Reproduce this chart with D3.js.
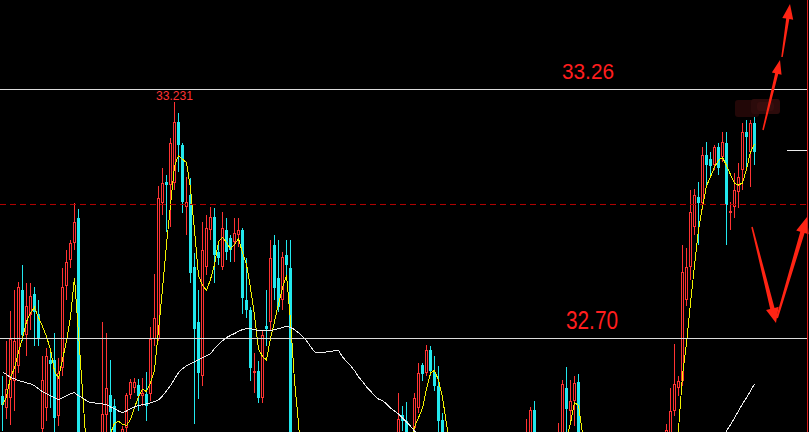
<!DOCTYPE html>
<html><head><meta charset="utf-8">
<script src="https://cdn.jsdelivr.net/npm/d3@7"></script>
<style>html,body{margin:0;padding:0;background:#000;overflow:hidden}svg{display:block}</style>
</head><body><svg id="c" width="809" height="432"></svg>
<script>
const opens=[32.571,32.544,32.567,32.605,32.639,32.810,32.707,32.752,32.801,32.756,
32.497,32.544,32.652,32.652,32.526,32.634,32.819,32.876,32.914,32.971,
32.199,32.176,32.210,32.289,32.357,32.469,32.528,32.573,32.549,32.458,
32.469,32.499,32.573,32.589,32.596,32.571,32.576,32.576,32.700,32.700,
33.005,33.052,33.045,33.050,33.188,33.136,32.996,33.023,32.860,32.736,
32.616,32.860,32.944,32.973,32.894,32.860,32.944,32.926,32.917,32.932,
32.944,32.786,32.763,32.623,32.628,32.567,32.729,32.736,32.910,32.835,
32.786,32.887,32.858,32.379,32.142,32.296,32.289,32.266,32.232,32.244,
32.210,32.199,32.221,32.187,32.176,32.199,32.226,32.244,32.266,32.277,
32.289,32.311,32.300,32.345,32.357,32.368,32.379,32.384,32.402,32.469,
32.528,32.515,32.458,32.499,32.544,32.641,32.623,32.675,32.625,32.594,
32.517,32.424,32.379,32.357,32.334,32.311,32.289,32.300,32.277,32.266,
32.289,32.311,32.334,32.323,32.345,32.357,32.368,32.379,32.402,32.413,
32.402,32.447,32.447,32.540,32.447,32.402,32.379,32.357,32.379,32.447,
32.469,32.589,32.537,32.560,32.603,32.447,32.289,32.266,32.244,32.232,
32.221,32.199,32.176,32.187,32.199,32.210,32.221,32.199,32.187,32.176,
32.187,32.199,32.210,32.221,32.232,32.244,32.469,32.469,32.537,32.589,
32.605,32.786,32.860,32.950,33.018,33.005,33.113,33.104,33.090,33.131,
33.109,33.140,32.982,32.996,33.029,33.079,33.165,33.120,33.185];
const highs=[32.616,32.695,32.761,32.808,32.826,32.865,32.824,32.824,32.815,32.786,
32.661,32.679,32.673,32.713,32.657,32.858,32.899,32.921,33.005,32.991,
32.232,32.244,32.311,32.402,32.458,32.738,32.713,32.652,32.564,32.479,
32.503,32.578,32.609,32.612,32.609,32.612,32.625,32.725,32.844,33.043,
33.084,33.068,33.151,33.231,33.208,33.140,33.063,33.061,32.892,32.808,
32.962,32.978,32.996,32.993,32.914,32.984,32.971,32.932,32.971,32.971,
32.948,32.880,32.770,32.668,32.650,32.718,32.808,32.921,32.932,32.921,
32.894,32.921,32.921,32.402,32.334,32.310,32.300,32.280,32.260,32.255,
32.225,32.235,32.230,32.200,32.210,32.240,32.255,32.280,32.295,32.300,
32.325,32.330,32.360,32.370,32.380,32.395,32.400,32.420,32.430,32.578,
32.549,32.558,32.474,32.578,32.646,32.646,32.686,32.684,32.661,32.639,
32.533,32.440,32.390,32.370,32.345,32.325,32.315,32.310,32.290,32.300,
32.325,32.345,32.350,32.360,32.370,32.380,32.395,32.415,32.430,32.425,
32.440,32.519,32.546,32.560,32.455,32.415,32.390,32.390,32.395,32.510,
32.607,32.637,32.607,32.616,32.621,32.455,32.300,32.280,32.255,32.245,
32.235,32.210,32.200,32.210,32.225,32.235,32.230,32.210,32.200,32.200,
32.210,32.225,32.235,32.245,32.255,32.260,32.508,32.589,32.688,32.616,
32.910,32.903,33.034,33.036,33.052,33.131,33.142,33.120,33.136,33.140,
33.165,33.165,33.007,33.072,33.095,33.185,33.192,33.192,33.199];
const lows=[32.492,32.519,32.506,32.537,32.623,32.695,32.661,32.718,32.684,32.684,
32.469,32.515,32.544,32.469,32.503,32.616,32.786,32.858,32.899,31.973,
32.131,32.153,32.187,32.266,32.334,32.458,32.469,32.469,32.447,32.424,
32.458,32.481,32.564,32.578,32.537,32.549,32.515,32.560,32.684,32.695,
32.978,32.939,32.950,33.034,33.075,32.982,32.932,32.824,32.508,32.564,
32.594,32.842,32.921,32.824,32.865,32.853,32.876,32.871,32.871,32.905,
32.756,32.745,32.605,32.578,32.555,32.555,32.684,32.718,32.786,32.759,
32.763,32.842,32.334,32.108,32.108,32.270,32.250,32.220,32.215,32.195,
32.185,32.185,32.170,32.160,32.165,32.190,32.215,32.235,32.250,32.265,
32.280,32.290,32.290,32.335,32.345,32.355,32.365,32.375,32.390,32.447,
32.492,32.436,32.424,32.469,32.533,32.605,32.616,32.616,32.582,32.488,
32.402,32.365,32.340,32.320,32.300,32.275,32.280,32.265,32.250,32.255,
32.280,32.300,32.310,32.315,32.335,32.345,32.360,32.370,32.390,32.390,
32.395,32.436,32.436,32.424,32.390,32.365,32.345,32.345,32.355,32.436,
32.458,32.469,32.515,32.503,32.424,32.275,32.250,32.230,32.220,32.205,
32.185,32.160,32.165,32.175,32.190,32.200,32.185,32.175,32.160,32.165,
32.175,32.190,32.200,32.210,32.220,32.230,32.458,32.458,32.526,32.571,
32.594,32.774,32.831,32.932,32.910,32.989,33.045,33.068,33.079,33.068,
33.097,32.910,32.944,32.971,32.993,33.034,33.079,33.041,33.090];
const closes=[32.551,32.587,32.700,32.695,32.815,32.707,32.774,32.795,32.759,32.702,
32.607,32.661,32.643,32.521,32.623,32.815,32.871,32.914,32.962,31.993,
32.171,32.199,32.289,32.357,32.424,32.530,32.589,32.535,32.469,32.447,
32.497,32.573,32.603,32.603,32.571,32.578,32.549,32.700,32.747,33.016,
33.050,33.045,33.140,33.188,33.136,33.007,33.007,32.847,32.722,32.623,
32.899,32.948,32.973,32.887,32.880,32.948,32.894,32.899,32.937,32.944,
32.790,32.763,32.634,32.628,32.567,32.707,32.722,32.880,32.813,32.770,
32.883,32.865,32.372,32.135,32.296,32.289,32.266,32.232,32.244,32.210,
32.199,32.221,32.187,32.176,32.199,32.226,32.244,32.266,32.277,32.289,
32.311,32.300,32.345,32.357,32.368,32.379,32.384,32.402,32.413,32.519,
32.515,32.458,32.447,32.567,32.623,32.621,32.675,32.628,32.594,32.515,
32.424,32.379,32.357,32.334,32.311,32.289,32.300,32.277,32.266,32.289,
32.311,32.334,32.323,32.345,32.357,32.368,32.379,32.402,32.413,32.402,
32.424,32.469,32.540,32.447,32.402,32.379,32.357,32.379,32.370,32.479,
32.598,32.542,32.560,32.600,32.447,32.289,32.266,32.244,32.232,32.221,
32.199,32.176,32.187,32.199,32.210,32.221,32.199,32.187,32.176,32.187,
32.199,32.210,32.221,32.232,32.244,32.244,32.494,32.537,32.598,32.605,
32.849,32.860,32.984,33.023,33.005,33.113,33.090,33.088,33.131,33.084,
33.142,33.000,32.987,33.034,33.063,33.165,33.154,33.185,33.120];
// long moving average (white), two visible stretches
const slowMaStarts=[0,179];
const slowMaSeg1=[32.625,32.619,32.612,32.609,32.605,32.603,32.600,32.598,32.594,32.587,
32.580,32.576,32.571,32.567,32.562,32.567,32.571,32.576,32.578,32.571,
32.567,32.560,32.555,32.555,32.553,32.553,32.551,32.546,32.542,32.537,
32.533,32.537,32.542,32.546,32.549,32.551,32.553,32.555,32.558,32.562,
32.571,32.582,32.594,32.609,32.623,32.632,32.639,32.643,32.648,32.652,
32.657,32.661,32.666,32.677,32.686,32.695,32.702,32.707,32.711,32.716,
32.720,32.722,32.722,32.720,32.718,32.718,32.718,32.718,32.720,32.722,
32.725,32.727,32.725,32.720,32.713,32.704,32.695,32.682,32.670,32.668,
32.668,32.670,32.670,32.673,32.673,32.659,32.648,32.639,32.628,32.614,
32.603,32.591,32.582,32.571,32.564,32.560,32.553,32.544,32.537,32.530,
32.521,32.512,32.503,32.492,32.481];
const slowMaSeg2=[32.460,32.476,32.492,32.506,32.521,32.537,32.553,32.567,32.582,32.598];
const levelPrices=[33.26,32.70];
const levelLabels=["33.26","32.70"];
const dashedPrice=33.00;
const maPeriod=5;

const W=809,H=432;
const RED="#ff3333", CYAN="#22e8ee", YEL="#f2f200", WHITE="#ececec";
const svg=d3.select("#c");
svg.append("rect").attr("width",W).attr("height",H).attr("fill","#000");

const idx=d3.range(closes.length);
const x=d3.scaleBand().domain(d3.range(200)).range([0,800]).padding(0);
const y=d3.scaleLinear().domain([32.70,33.26]).range([338.5,89.5]);
const cxOf=i=>x(i)+2.5;

// candles
const cg=svg.append("g").attr("shape-rendering","crispEdges");
const cand=cg.selectAll("g").data(idx).join("g");
cand.append("line")
  .attr("x1",cxOf).attr("x2",cxOf)
  .attr("y1",i=>Math.round(y(highs[i]))).attr("y2",i=>Math.round(y(lows[i])))
  .attr("stroke",i=>closes[i]>=opens[i]?RED:CYAN).attr("stroke-width",1);
cand.each(function(i){
  const o=opens[i],c=closes[i],up=c>=o;
  const top=Math.round(y(Math.max(o,c))),bot=Math.round(y(Math.min(o,c)));
  const s=d3.select(this);
  if(up){
    s.append("rect").attr("x",x(i)+1.5).attr("y",top+0.5).attr("width",2)
     .attr("height",Math.max(bot-top-1,1)).attr("fill","#000").attr("stroke",RED).attr("stroke-width",1);
  } else {
    s.append("rect").attr("x",x(i)+1).attr("y",top).attr("width",3)
     .attr("height",Math.max(bot-top,1)).attr("fill",CYAN);
  }
});

// moving averages
const ma5=closes.map((_,i)=>d3.mean(closes.slice(Math.max(0,i-maPeriod+1),i+1)));
const line=d3.line().x(d=>d[0]).y(d=>d[1]);
svg.append("path").attr("d",line(idx.map(i=>[cxOf(i),y(ma5[i])])))
  .attr("fill","none").attr("stroke",YEL).attr("stroke-width",1).attr("shape-rendering","crispEdges");
[slowMaSeg1,slowMaSeg2].forEach((seg,k)=>{
  svg.append("path").attr("d",line(seg.map((v,j)=>[cxOf(slowMaStarts[k]+j),y(v)])))
    .attr("fill","none").attr("stroke",WHITE).attr("stroke-width",1).attr("shape-rendering","crispEdges");
});

// level lines and labels
svg.selectAll(".lvl").data(levelPrices).join("line").attr("class","lvl")
  .attr("x1",0).attr("x2",807).attr("y1",d=>y(d)).attr("y2",d=>y(d))
  .attr("stroke","#dcdcdc").attr("stroke-width",1).attr("shape-rendering","crispEdges");
const lblCfg=[{x:562,dy:-11,fs:22},{x:566,dy:-10,fs:25}];
svg.selectAll(".lbl").data(levelLabels).join("text").attr("class","lbl")
  .attr("x",(d,k)=>lblCfg[k].x).attr("y",(d,k)=>y(levelPrices[k])+lblCfg[k].dy)
  .attr("font-family","'Liberation Sans', Arial, sans-serif").attr("font-size",(d,k)=>lblCfg[k].fs)
  .attr("textLength",52).attr("lengthAdjust","spacingAndGlyphs")
  .attr("fill","#ff1e1e").text(d=>d);

// dashed line
const dy=Math.round(y(dashedPrice))-0.5;
svg.append("line").attr("x1",0).attr("x2",807).attr("y1",dy).attr("y2",dy)
  .attr("stroke","#b00000").attr("stroke-width",1).attr("stroke-dasharray","6,4").attr("shape-rendering","crispEdges");

// max high label
const iMax=d3.maxIndex(highs);
svg.append("text").attr("x",cxOf(iMax)).attr("y",y(highs[iMax])-2.5)
  .attr("text-anchor","middle").attr("font-family","'Liberation Sans', Arial, sans-serif")
  .attr("font-size",13).attr("textLength",37).attr("lengthAdjust","spacingAndGlyphs")
  .attr("fill","#ff3333").text(highs[iMax].toFixed(3));

// smudge
const smudge=[{x:735,y:100,w:24,h:17,c:"#220707"},{x:751,y:99,w:29,h:15,c:"#2c0b0b"},{x:757,y:102,w:17,h:9,c:"#360e0e"}];
svg.selectAll(".sm").data(smudge).join("rect").attr("class","sm")
  .attr("x",d=>d.x).attr("y",d=>d.y).attr("width",d=>d.w).attr("height",d=>d.h)
  .attr("rx",3).attr("fill",d=>d.c);

// hand-drawn arrows
const arrows=[
  {x1:763,y1:130,x2:780,y2:60,w1:1.5,w2:3.2,hl:14,hw:5},
  {x1:782,y1:57,x2:790,y2:4,w1:1.5,w2:3.2,hl:15,hw:5.5},
  {x1:752,y1:227,x2:776,y2:323,w1:1.5,w2:4.5,hl:15,hw:6.5},
  {x1:777,y1:318,x2:807,y2:217,w1:2,w2:4.5,hl:16,hw:6.5}
];
function arrowPts(a){
  const dx=a.x2-a.x1,dy=a.y2-a.y1,L=Math.hypot(dx,dy);
  const ux=dx/L,uy=dy/L,nx=-uy,ny=ux;
  const bx=a.x2-ux*a.hl,by=a.y2-uy*a.hl;
  return [[a.x1+nx*a.w1/2,a.y1+ny*a.w1/2],[bx+nx*a.w2/2,by+ny*a.w2/2],[bx+nx*a.hw,by+ny*a.hw],
    [a.x2,a.y2],[bx-nx*a.hw,by-ny*a.hw],[bx-nx*a.w2/2,by-ny*a.w2/2],[a.x1-nx*a.w1/2,a.y1-ny*a.w1/2]];
}
svg.selectAll(".arr").data(arrows).join("polygon").attr("class","arr")
  .attr("points",a=>arrowPts(a).map(p=>p.join(",")).join(" ")).attr("fill","#ff2414");

// small white tick, right red edge line
svg.append("line").attr("x1",787).attr("x2",807).attr("y1",150.5).attr("y2",150.5)
  .attr("stroke","#ededed").attr("stroke-width",1).attr("shape-rendering","crispEdges");
svg.append("line").attr("x1",807.5).attr("x2",807.5).attr("y1",0).attr("y2",H)
  .attr("stroke","#d81e1e").attr("stroke-width",1).attr("shape-rendering","crispEdges");
</script></body></html>
